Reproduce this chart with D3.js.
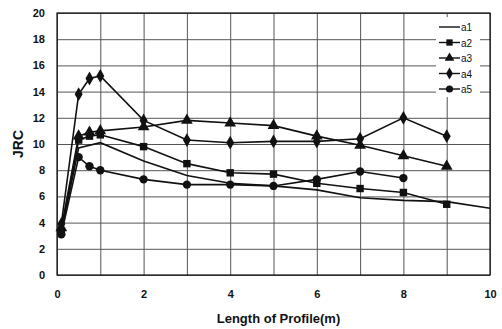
<!DOCTYPE html>
<html>
<head>
<meta charset="utf-8">
<script src="https://cdn.jsdelivr.net/npm/d3@7"></script>
<style>
  body { margin: 0; background: #fff; }
  text { font-family: "Liberation Sans", Arial, sans-serif; font-weight: bold; fill: #111; }
</style>
</head>
<body>
<div id="figure-container"></div>
<script>
// values
var xA1 = [0.1, 0.5, 1, 2, 3, 4, 5, 6, 7, 8, 9, 10];
var a1 = [3.3, 9.7, 10.1, 8.7, 7.6, 7.0, 6.8, 6.5, 5.9, 5.7, 5.6, 5.1];
var xPts = [0.1, 0.5, 0.75, 1, 2, 3, 4, 5, 6, 7, 8, 9];
var a2 = [3.3, 10.3, 10.6, 10.7, 9.8, 8.5, 7.8, 7.7, 7.0, 6.6, 6.3, 5.4];
var a3 = [3.6, 10.6, 10.9, 11.0, 11.3, 11.8, 11.6, 11.4, 10.6, 9.9, 9.1, 8.3];
var a4 = [3.9, 13.8, 15.0, 15.2, 11.8, 10.3, 10.1, 10.2, 10.2, 10.4, 12.0, 10.6];
var xA5 = [0.1, 0.5, 0.75, 1, 2, 3, 4, 5, 6, 7, 8];
var a5 = [3.1, 9.0, 8.3, 8.0, 7.3, 6.9, 6.9, 6.8, 7.3, 7.9, 7.4];
var seriesNames = ['a1', 'a2', 'a3', 'a4', 'a5'];
var xTicks = [0, 2, 4, 6, 8, 10];
var yTicks = [0, 2, 4, 6, 8, 10, 12, 14, 16, 18, 20];

var series = [
  {name: 'a1', xs: xA1, ys: a1, sym: null},
  {name: 'a2', xs: xPts, ys: a2, sym: d3.symbolSquare},
  {name: 'a3', xs: xPts, ys: a3, sym: d3.symbolTriangle},
  {name: 'a4', xs: xPts, ys: a4, sym: d3.symbolDiamond},
  {name: 'a5', xs: xA5, ys: a5, sym: d3.symbolCircle}
];

var margin = {top: 13, right: 12, bottom: 54, left: 57};
var fullWidth = 502, fullHeight = 329;
var width = fullWidth - margin.left - margin.right;
var height = fullHeight - margin.top - margin.bottom;

var xScale = d3.scaleLinear().domain([0, 10]).range([0, width]);
var yScale = d3.scaleLinear().domain([0, 20]).range([height, 0]);

var svg = d3.select('#figure-container')
  .append('svg')
  .attr('width', fullWidth)
  .attr('height', fullHeight)
  .append('g')
  .attr('transform', `translate(${margin.left},${margin.top})`);

// grid
svg.append('g')
  .attr('class', 'grid y')
  .call(d3.axisLeft(yScale).tickValues(yTicks).tickSize(-width).tickFormat(''))
  .call(g => g.select('.domain').remove())
  .selectAll('line').attr('stroke', '#555').attr('stroke-width', 1);

svg.append('g')
  .attr('class', 'grid x')
  .attr('transform', `translate(0,${height})`)
  .call(d3.axisBottom(xScale).tickValues(d3.range(0, 11, 1)).tickSize(-height).tickFormat(''))
  .call(g => g.select('.domain').remove())
  .selectAll('line').attr('stroke', '#555').attr('stroke-width', 1);

svg.append('rect')
  .attr('width', width)
  .attr('height', height)
  .attr('fill', 'none')
  .attr('stroke', '#111')
  .attr('stroke-width', 1.2);

// axes labels
svg.append('g')
  .attr('transform', `translate(0,${height})`)
  .call(d3.axisBottom(xScale).tickValues(xTicks).tickSize(0).tickPadding(15))
  .call(g => g.select('.domain').remove())
  .selectAll('text').style('font-size', '11px');

svg.append('g')
  .call(d3.axisLeft(yScale).tickValues(yTicks).tickSize(0).tickPadding(12))
  .call(g => g.select('.domain').remove())
  .selectAll('text').style('font-size', '11px');

svg.append('text')
  .attr('x', width / 2 + 5)
  .attr('y', height + 48)
  .attr('text-anchor', 'middle')
  .style('font-size', '13px')
  .text('Length of Profile(m)');

svg.append('text')
  .attr('transform', `translate(-34,${height / 2}) rotate(-90)`)
  .attr('text-anchor', 'middle')
  .style('font-size', '14px')
  .text('JRC');

// data
var line = d3.line()
  .x(d => xScale(d[0]))
  .y(d => yScale(d[1]));

var dataArea = svg.append('g').attr('class', 'data-area');
series.forEach(function(s) {
  var pts = s.xs.map((x, i) => [x, s.ys[i]]);
  dataArea.append('path')
    .datum(pts)
    .attr('fill', 'none')
    .attr('stroke', '#111')
    .attr('stroke-width', 1.6)
    .attr('d', line);
  if (s.sym) {
    dataArea.append('g')
      .selectAll('path')
      .data(pts)
      .enter()
        .append('path')
        .attr('transform', d => `translate(${xScale(d[0])},${yScale(d[1])})`)
        .attr('d', d3.symbol().type(s.sym).size(s.sym === d3.symbolTriangle ? 60 : 55))
        .attr('fill', '#111');
  }
});

// legend
var legend = svg.append('g')
  .attr('transform', `translate(${width - 52},4)`);
legend.append('rect')
  .attr('x', -2)
  .attr('y', 0)
  .attr('width', 44)
  .attr('height', 80)
  .attr('fill', '#fff');
series.forEach(function(s, i) {
  var ly = 10 + i * 15.5;
  legend.append('line')
    .attr('x1', 1).attr('x2', 22)
    .attr('y1', ly).attr('y2', ly)
    .attr('stroke', '#111')
    .attr('stroke-width', 1.4);
  if (s.sym) {
    legend.append('path')
      .attr('transform', `translate(11.5,${ly})`)
      .attr('d', d3.symbol().type(s.sym).size(40))
      .attr('fill', '#111');
  }
  legend.append('text')
    .attr('x', 23)
    .attr('y', ly + 4)
    .style('font-size', '10px')
    .style('font-weight', 'normal')
    .text(seriesNames[i]);
});
</script>
</body>
</html>
